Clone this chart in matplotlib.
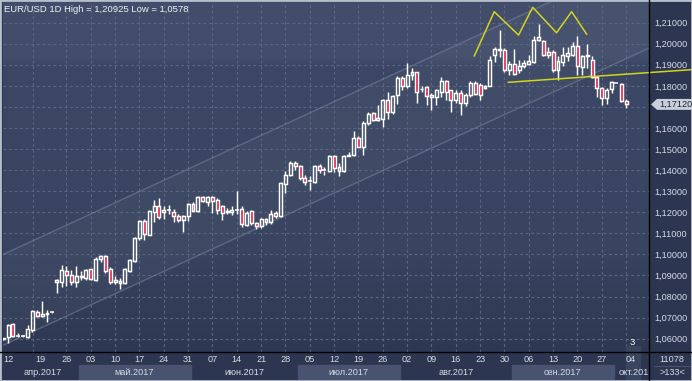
import numpy as np
import matplotlib
matplotlib.use("Agg")
import matplotlib.pyplot as plt
from matplotlib.patches import Rectangle, Polygon
from matplotlib.lines import Line2D
from matplotlib.colors import to_rgb
from matplotlib.transforms import blended_transform_factory

plt.rcParams['font.family'] = ['Liberation Sans', 'DejaVu Sans']

# ---------------- data ----------------
opens = [1.0598, 1.0609, 1.0668, 1.0614, 1.0614, 1.0609, 1.0641, 1.0728, 1.0709, 1.0715,
         1.0725, 1.0880, 1.0868, 1.0921, 1.0904, 1.0869, 1.0893, 1.0890, 1.0929, 1.0880,
         1.0980, 1.0991, 1.0929, 1.0869, 1.0865, 1.0865, 1.0921, 1.0969, 1.1079, 1.1157,
         1.1094, 1.1200, 1.1231, 1.1200, 1.1211, 1.1200, 1.1180, 1.1161, 1.1180, 1.1239,
         1.1208, 1.1271, 1.1247, 1.1271, 1.1259, 1.1228, 1.1200, 1.1199, 1.1210, 1.1215,
         1.1140, 1.1204, 1.1148, 1.1133, 1.1167, 1.1152, 1.1196, 1.1180, 1.1335, 1.1378,
         1.1436, 1.1421, 1.1362, 1.1346, 1.1346, 1.1421, 1.1398, 1.1398, 1.1465, 1.1414,
         1.1394, 1.1468, 1.1473, 1.1552, 1.1512, 1.1626, 1.1670, 1.1639, 1.1642, 1.1734,
         1.1674, 1.1758, 1.1837, 1.1797, 1.1853, 1.1864, 1.1783, 1.1794, 1.1746, 1.1746,
         1.1773, 1.1821, 1.1778, 1.1733, 1.1765, 1.1717, 1.1757, 1.1813, 1.1805, 1.1800,
         1.1800, 1.1948, 1.1970, 1.1971, 1.1876, 1.1905, 1.1873, 1.1892, 1.1905, 1.1911,
         1.2016, 1.2011, 1.1963, 1.1963, 1.1876, 1.1911, 1.1940, 1.1948, 1.1990, 1.1889,
         1.1948, 1.1921, 1.1844, 1.1789, 1.1741, 1.1784, 1.1815, 1.1810, 1.1730]
highs = [1.0603, 1.0672, 1.0676, 1.0628, 1.0616, 1.0665, 1.0735, 1.0735, 1.0778, 1.0738,
         1.0726, 1.0885, 1.0948, 1.0943, 1.0924, 1.0943, 1.0921, 1.0932, 1.0932, 1.0987,
         1.0995, 1.0995, 1.0940, 1.0896, 1.0890, 1.0937, 1.0980, 1.1082, 1.1164, 1.1169,
         1.1211, 1.1258, 1.1268, 1.1231, 1.1236, 1.1216, 1.1192, 1.1189, 1.1243, 1.1247,
         1.1279, 1.1279, 1.1279, 1.1279, 1.1267, 1.1235, 1.1220, 1.1228, 1.1299, 1.1228,
         1.1204, 1.1212, 1.1156, 1.1172, 1.1172, 1.1209, 1.1204, 1.1346, 1.1394, 1.1444,
         1.1444, 1.1425, 1.1378, 1.1373, 1.1425, 1.1430, 1.1414, 1.1473, 1.1473, 1.1433,
         1.1473, 1.1484, 1.1584, 1.1560, 1.1631, 1.1678, 1.1678, 1.1710, 1.1737, 1.1773,
         1.1758, 1.1845, 1.1845, 1.1908, 1.1884, 1.1868, 1.1797, 1.1797, 1.1765, 1.1784,
         1.1844, 1.1829, 1.1781, 1.1781, 1.1781, 1.1765, 1.1821, 1.1821, 1.1813, 1.1805,
         1.1940, 1.1984, 1.2067, 1.1979, 1.1916, 1.1975, 1.1924, 1.1924, 1.1948, 1.2035,
         1.20925, 1.2019, 1.1984, 1.1971, 1.1940, 1.1984, 1.1984, 1.2006, 1.2035, 1.1948,
         1.2000, 1.1940, 1.1848, 1.1794, 1.1789, 1.1825, 1.1818, 1.1813, 1.1736]
lows = [1.0595, 1.0578, 1.0606, 1.0609, 1.0610, 1.0602, 1.0633, 1.0701, 1.0704, 1.0680,
        1.0724, 1.0817, 1.0846, 1.0849, 1.0854, 1.0846, 1.0877, 1.0880, 1.0880, 1.0874,
        1.0964, 1.0912, 1.0858, 1.0858, 1.0838, 1.0858, 1.0917, 1.0964, 1.1069, 1.1069,
        1.1090, 1.1153, 1.1169, 1.1169, 1.1192, 1.1153, 1.1153, 1.1106, 1.1157, 1.1205,
        1.1202, 1.1247, 1.1232, 1.1195, 1.1193, 1.1161, 1.1193, 1.1188, 1.1193, 1.1129,
        1.1133, 1.1140, 1.1120, 1.1125, 1.1140, 1.1145, 1.1172, 1.1177, 1.1291, 1.1370,
        1.1402, 1.1354, 1.1330, 1.1307, 1.1338, 1.1386, 1.1378, 1.1389, 1.1389, 1.1370,
        1.1389, 1.1465, 1.1465, 1.1509, 1.1473, 1.1615, 1.1631, 1.1631, 1.1607, 1.1642,
        1.1667, 1.1715, 1.1781, 1.1789, 1.1826, 1.1721, 1.1773, 1.1710, 1.1686, 1.1710,
        1.1746, 1.1733, 1.1678, 1.1717, 1.1662, 1.1705, 1.1746, 1.1757, 1.1733, 1.1784,
        1.1797, 1.1911, 1.1937, 1.1868, 1.1852, 1.1852, 1.1860, 1.1884, 1.1900, 1.1908,
        1.2011, 1.1943, 1.1932, 1.1868, 1.1829, 1.1895, 1.1916, 1.1940, 1.1852, 1.1852,
        1.1884, 1.1837, 1.1746, 1.1710, 1.1714, 1.1768, 1.1813, 1.1725, 1.1694]
closes = [1.0601, 1.0665, 1.0613, 1.0616, 1.0612, 1.0644, 1.0731, 1.0707, 1.0715, 1.0724,
          1.0726, 1.0868, 1.0924, 1.0901, 1.0869, 1.0896, 1.0899, 1.0928, 1.0885, 1.0980,
          1.0992, 1.0921, 1.0869, 1.0877, 1.0872, 1.0929, 1.0972, 1.1079, 1.1157, 1.1098,
          1.1205, 1.1231, 1.1176, 1.1213, 1.1212, 1.1180, 1.1161, 1.1184, 1.1239, 1.1208,
          1.1274, 1.1252, 1.1271, 1.1252, 1.1212, 1.1196, 1.1204, 1.1212, 1.1212, 1.1145,
          1.1196, 1.1148, 1.1133, 1.1167, 1.1152, 1.1193, 1.1180, 1.1338, 1.1378, 1.1436,
          1.1421, 1.1362, 1.1346, 1.1348, 1.1421, 1.1402, 1.1399, 1.1465, 1.1410, 1.1398,
          1.1465, 1.1473, 1.1552, 1.1512, 1.1626, 1.1667, 1.1636, 1.1647, 1.1734, 1.1674,
          1.1750, 1.1837, 1.1797, 1.1853, 1.1864, 1.1769, 1.1786, 1.1750, 1.1757, 1.1778,
          1.1821, 1.1773, 1.1733, 1.1768, 1.1717, 1.1757, 1.1813, 1.1762, 1.1757, 1.1789,
          1.1924, 1.1975, 1.1975, 1.1876, 1.1905, 1.1857, 1.1892, 1.1908, 1.1916, 1.2016,
          1.2032, 1.1948, 1.1948, 1.1876, 1.1916, 1.1948, 1.1956, 1.1990, 1.1892, 1.1940,
          1.1940, 1.1844, 1.1789, 1.1741, 1.1781, 1.1816, 1.1816, 1.1730, 1.1712]

price_ticks = [1.06, 1.07, 1.08, 1.09, 1.10, 1.11, 1.12, 1.13, 1.14, 1.15, 1.16, 1.17, 1.18, 1.19, 1.20, 1.21]
last_price = 1.17120
date_labels = ["12", "19", "26", "03", "10", "17", "24", "31", "07", "14", "21", "28",
               "05", "12", "19", "26", "02", "09", "16", "23", "30", "06", "13", "20", "27", "04"]
month_labels = ["апр.2017", "май.2017", "июн.2017", "июл.2017", "авг.2017", "сен.2017", "окт.2017"]
month_start_idx = [-10, 16, 39, 61, 82, 105, 126]   # first bar of each month
title = "EUR/USD 1D High = 1,20925 Low = 1,0578"

# channel lines (bar index, price)
chan_upper = [(-0.66, 1.0993), (132.7, 1.2415)]
chan_lower = [(-0.66, 1.0562), (132.7, 1.1979)]
# triple-top zigzag and neckline
zig_x = [96.8, 100.9, 105.9, 108.8, 113.7, 116.8, 119.9]
zig_y = [1.1942, 1.2152, 1.2041, 1.2173, 1.2052, 1.2152, 1.2045]
neck_x = [103.8, 141.5]
neck_y = [1.1817, 1.1877]

# ---------------- figure ----------------
W, H = 692, 381
fig = plt.figure(figsize=(W / 100, H / 100), dpi=100)
fig.patch.set_facecolor('#2c3650')

def fx(px):
    return px / W
def fy(py):
    return 1 - py / H

PL, PR, PT, PB = 3, 649, 2, 352
ax = fig.add_axes([fx(PL), fy(PB), fx(PR - PL), (PB - PT) / H])
n = len(opens)
x_lo, x_hi = -0.04, 132.7
y_lo, y_hi = 1.05369, 1.2198
ax.set_xlim(x_lo, x_hi)
ax.set_ylim(y_lo, y_hi)

# background gradient
stops_px = [0, 55, 62, 250, 290, 350]
stops_col = ['#424e6b', '#414d6a', '#3b4764', '#384460', '#333e59', '#2e3852']
rows = np.linspace(0, 350, 351)
cols = np.array([to_rgb(c) for c in stops_col])
grad = np.stack([np.interp(rows, stops_px, cols[:, k]) for k in range(3)], axis=-1)[:, None, :]
ax.imshow(grad, extent=[x_lo, x_hi, y_lo, y_hi], aspect='auto', origin='upper', zorder=0)

# channel fill + lines
cx = [chan_upper[0][0], chan_upper[1][0]]
ax.fill_between(cx, [chan_lower[0][1], chan_lower[1][1]], [chan_upper[0][1], chan_upper[1][1]],
                color='white', alpha=0.03, lw=0, zorder=0.5)
for ch in (chan_upper, chan_lower):
    ax.plot([ch[0][0], ch[1][0]], [ch[0][1], ch[1][1]], color='#7a849c', lw=1.0, alpha=0.55, zorder=1)

# grid
for v in price_ticks:
    ax.axhline(v, color='#5b6782', lw=0.8, ls=(0, (2.5, 2.5)), zorder=0.8)
grid_x = [6.2] + [13 + 5 * k for k in range(24)]
for gx in grid_x:
    ax.axvline(gx, color='#5b6782', lw=0.8, ls=(0, (2.5, 2.5)), zorder=0.8)

# candles
bw = 0.6
red = '#e0103c'
lwc = 1.05
for i in range(n):
    o, h, l, c = opens[i], highs[i], lows[i], closes[i]
    top, bot = max(o, c), min(o, c)
    ax.plot([i, i], [top, h], color='white', lw=lwc, zorder=3, solid_capstyle='butt')
    ax.plot([i, i], [l, bot], color='white', lw=lwc, zorder=3, solid_capstyle='butt')
    if top - bot < 0.00025:
        ax.plot([i - bw / 2 - 0.1, i + bw / 2 + 0.1], [(top + bot) / 2] * 2, color='white', lw=1.1, zorder=3,
                solid_capstyle='butt')
    else:
        fc = red if c < o else 'none'
        ax.add_patch(Rectangle((i - bw / 2, bot), bw, top - bot, facecolor=fc, edgecolor='white',
                               lw=lwc, zorder=3))

# pattern lines
ax.plot(zig_x, zig_y, color='#d4d41e', lw=1.1, zorder=4)
ax.plot(neck_x, neck_y, color='#d4d41e', lw=1.1, zorder=4, clip_on=False)

ax.set_xticks([])
ax.yaxis.tick_right()
ax.set_yticks(price_ticks)
ax.set_yticklabels(["" if abs(v - last_price) < 0.005 else f"{v:.5f}".replace('.', ',')
                    for v in price_ticks], color='#d6dbe6', fontsize=6.6)
ax.tick_params(axis='y', length=0, pad=3.5)
for s in ax.spines.values():
    s.set_visible(False)

ax.text(0.002, 0.992, title, transform=ax.transAxes, color='#eef1f6', fontsize=6.8,
        va='top', ha='left', zorder=6)
ax.text(129.2, 1.0560, "3", color='white', fontsize=6.8, ha='center', va='bottom', zorder=6)

# ---------------- bottom date strip ----------------
axb = fig.add_axes([fx(PL), 0, fx(PR - PL), fy(PB)])
axb.set_xlim(x_lo, x_hi)
axb.set_ylim(H, PB)
axb.axis('off')
axb.add_patch(Rectangle((x_lo, PB), x_hi - x_lo, H - PB, color='#2c3650', zorder=0))
month_end_idx = month_start_idx[1:] + [140]
for k, lab in enumerate(month_labels):
    s, e = month_start_idx[k] - 0.5, month_end_idx[k] - 0.5
    if k % 2 == 1:
        axb.add_patch(Rectangle((s, 365.5), e - s, 13.5, color='#47536f', zorder=1))
    cxm = (max(s, x_lo) + e) / 2
    if k == 0:
        cxm = 8.2
    if k == len(month_labels) - 1:
        cxm = 130.2
    axb.text(cxm, 372.5, lab, color='#d5dae5', fontsize=6.6, ha='center', va='center', zorder=2,
             clip_on=True)
date_pos = [1.05, 7.6] + [13 + 5 * k for k in range(23)] + [129.0]
for p, lab in zip(date_pos, date_labels):
    axb.text(p, 360, lab, color='#d5dae5', fontsize=6.6, ha='center', va='center', zorder=2)
axb.add_patch(Rectangle((128.0, 346.5), 2.9, 34, color='#3a4560', zorder=1.5, clip_on=False))

# ---------------- right panel ----------------
fig.text(fx(672), fy(360), "11078", color='#d6dbe6', fontsize=6.6, ha='center', va='center')
fig.text(fx(672), fy(372.5), ">133<", color='#d6dbe6', fontsize=6.6, ha='center', va='center')
fig.add_artist(Line2D([fx(654), fx(690)], [fy(366), fy(366)], color='#4a5570', lw=0.8))

# last price marker
bt = blended_transform_factory(fig.transFigure, ax.transData)
hh = 0.0026
poly = Polygon([(fx(651), last_price), (fx(657), last_price + hh), (fx(692), last_price + hh),
                (fx(692), last_price - hh), (fx(657), last_price - hh)], closed=True,
               transform=bt, facecolor='#c9ced8', edgecolor='none', clip_on=False, zorder=10)
fig.add_artist(poly)
lp = fig.text(fx(659), 0, "1,17120", color='#1f2636', fontsize=6.6, ha='left', va='center', zorder=11)
lp.set_transform(bt)
lp.set_position((fx(659), last_price))

# separators and frame
fig.add_artist(Line2D([fx(PR), fx(PR)], [0, 1], color='black', lw=1.0))
fig.add_artist(Line2D([0, 1], [fy(PB), fy(PB)], color='black', lw=1.0))
fig.add_artist(Rectangle((0, 0), 1, 1, transform=fig.transFigure, fill=False,
                         edgecolor='#b8bfcc', lw=2.0))

fig.savefig("out.png", dpi=100, facecolor=fig.get_facecolor())
